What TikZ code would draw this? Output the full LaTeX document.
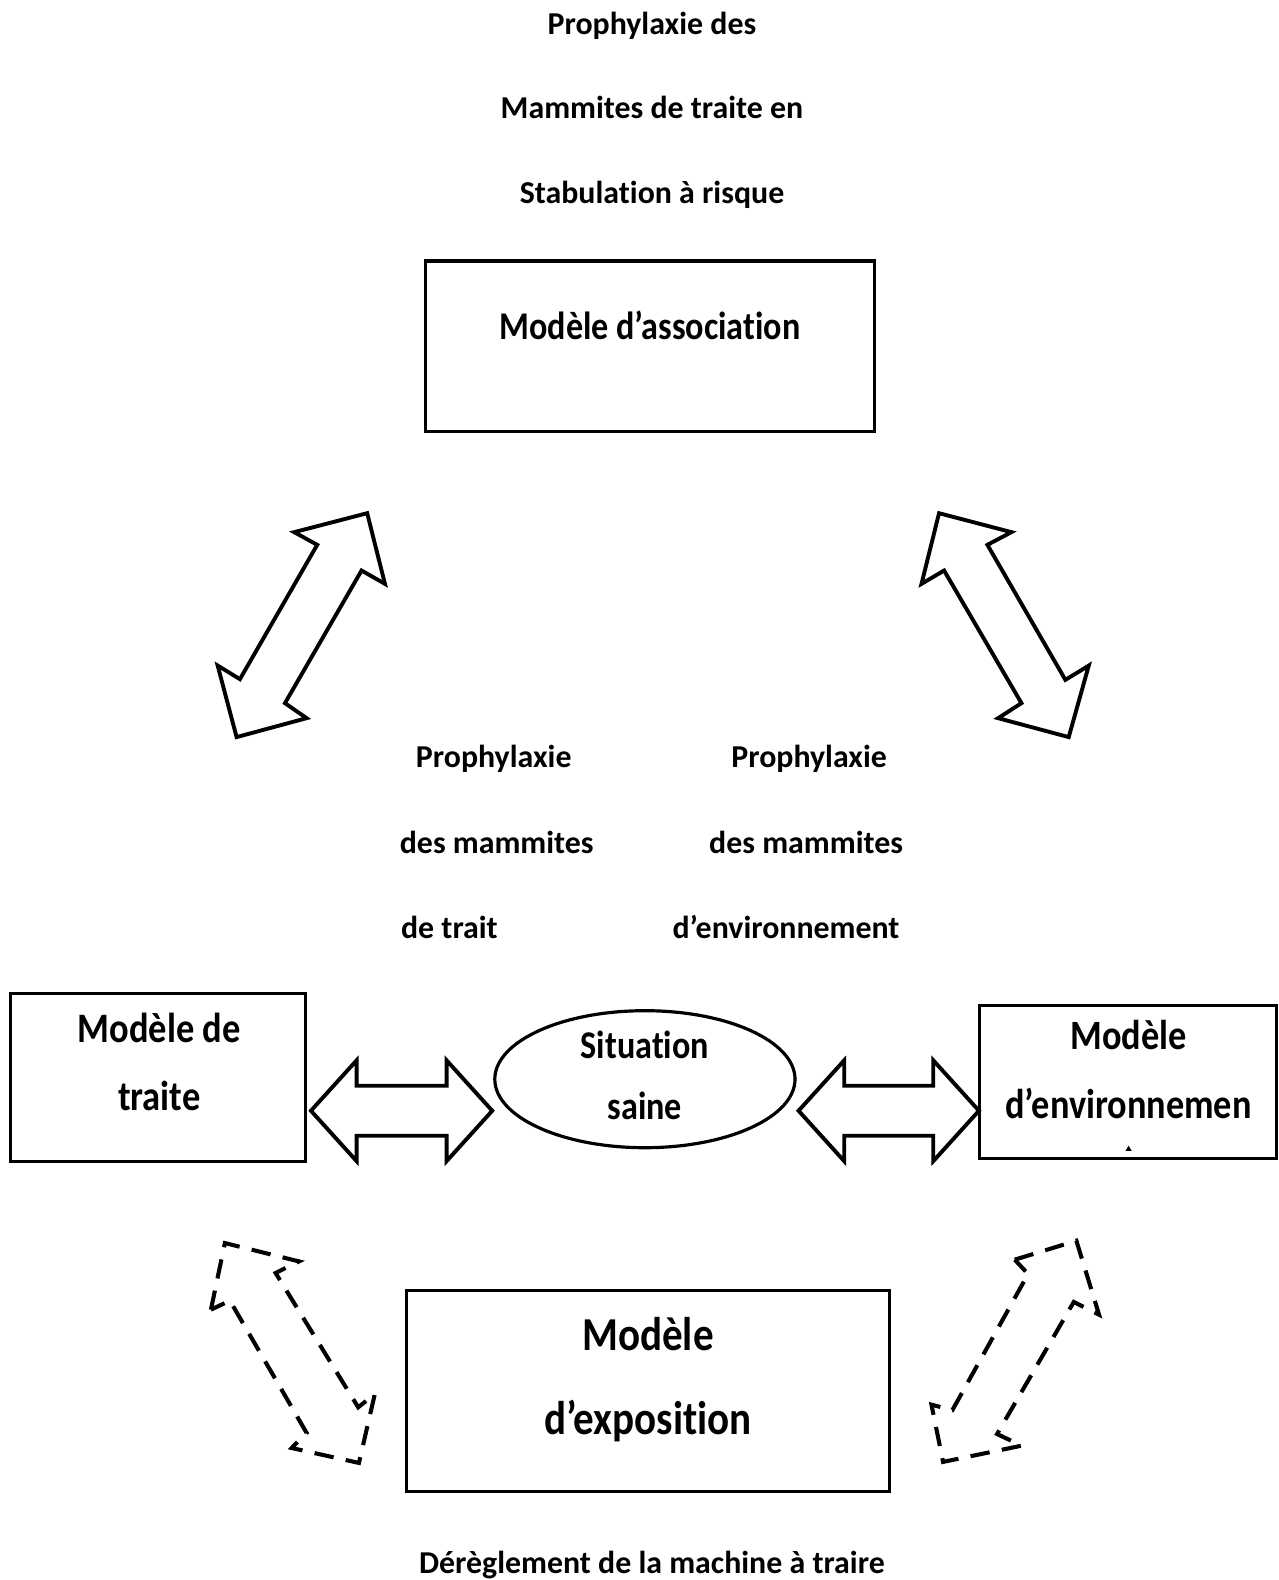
\documentclass[tikz,border=0pt]{standalone}
\usepackage{fontspec}
\setmainfont{Carlito}[Ligatures=NoCommon]
\usepackage{graphicx}
\usetikzlibrary{shapes.geometric}
\newcommand{\tallbox}[1]{\scalebox{1}[1.15]{#1}}
\tikzset{
    headtext/.style={
        font=\fontsize{18}{22}\selectfont\bfseries, % titres en gras
        anchor=base,
        inner sep=0
    },
    modelbox/.style={
        draw,
        line width=1.8pt,
        inner sep=0
    },
    modeltext/.style={
        font=\fontsize{19.3}{23}\selectfont\bfseries,
        anchor=base,
        inner sep=0
    },
    blockarrow/.style={
        draw,
        line width=2.2pt,
        line join=miter
    },
    dasharrow/.style={
        draw,
        line width=2.3pt,
        dash pattern=on 11pt off 7pt
    }
}

\begin{document}
\begin{tikzpicture}[x=0.02cm,y=-0.02cm]
    \useasboundingbox (0,0) rectangle (1269,1568);
    % titre
    \node[headtext] (title1) at (647,34) {Prophylaxie des};
    \node[headtext] (title2) at (647,118) {Mammites de traite en};
    \node[headtext] (title3) at (647,202) {Stabulation à risque};
    % modeles
    \node[modelbox, minimum width=8.92cm, minimum height=3.38cm] (assoc) at (645,343.5) {};
    \node[modeltext] (assoctxt) at (645,337) {\tallbox{Modèle d’association}};
    \node[modelbox, minimum width=5.86cm, minimum height=3.34cm] (traite) at (156.5,1069.5) {};
    \node[modeltext, font=\fontsize{20.6}{24}\selectfont\bfseries] (traitetxt1) at (158,1035) {\tallbox{Modèle de}};
    \node[modeltext, font=\fontsize{20.6}{24}\selectfont\bfseries] (traitetxt2) at (158,1102) {\tallbox{traite}};
    \node[modelbox, ellipse, minimum width=5.96cm, minimum height=2.72cm] (saine) at (640,1071) {};
    \node[modeltext] (sainetxt1) at (640,1050) {\tallbox{Situation}};
    \node[modeltext] (sainetxt2) at (640,1111) {\tallbox{saine}};
    \node[modelbox, minimum width=5.9cm, minimum height=3.04cm] (envir) at (1119.5,1074) {};
    \node[modeltext, font=\fontsize{20.5}{24}\selectfont\bfseries] (envirtxt1) at (1120,1042) {\tallbox{Modèle}};
    \node[modeltext, font=\fontsize{20.5}{24}\selectfont\bfseries] (envirtxt2) at (1120,1110) {\tallbox{d’environnemen}};
    \fill (1117,1142) -- (1120,1137) -- (1123,1142) -- cycle;
    \node[modelbox, minimum width=9.6cm, minimum height=3.98cm] (expo) at (643,1380.5) {};
    \node[modeltext, font=\fontsize{23.2}{27}\selectfont\bfseries] (expotxt1) at (643,1340) {\tallbox{Modèle}};
    \node[modeltext, font=\fontsize{23.2}{27}\selectfont\bfseries] (expotxt2) at (643,1424) {\tallbox{d’exposition}};
    % textes du milieu
    \node[headtext] (traitlab1) at (490,762) {Prophylaxie};
    \node[headtext] (traitlab2) at (493,847) {des mammites};
    \node[headtext] (traitlab3) at (446,931) {de trait};
    \node[headtext] (envlab1) at (803,762) {Prophylaxie};
    \node[headtext] (envlab2) at (800,847) {des mammites};
    \node[headtext] (envlab3) at (780,931) {d’environnement};
    \node[headtext] (machine) at (647,1562) {Dérèglement de la machine à traire};
    % fleches pleines
    \draw[blockarrow] (364.4,509.3) -- (382,579.4) -- (358.8,566.2) -- (282.8,697.8) -- (304.3,712.7)
        -- (234.8,731.5) -- (216,660.5) -- (238.1,674) -- (314.8,540.7) -- (292,528.1) -- cycle;
    \draw[blockarrow] (931.9,509.3) -- (914.5,579.4) -- (936.9,566.2) -- (1013.7,697.8) -- (990.5,712.7)
        -- (1060.6,731.5) -- (1080.5,660.5) -- (1057.3,674.7) -- (979.9,540.7) -- (1003.7,528.1) -- cycle;
    \draw[blockarrow] (308.6,1102.3) -- (353.9,1052.3) -- (353.9,1077.5) -- (443.2,1077.5) -- (443.2,1052.3)
        -- (488.5,1102.3) -- (443.2,1152.3) -- (443.2,1127.1) -- (353.9,1127.1) -- (353.9,1152.3) -- cycle;
    \draw[blockarrow] (792.5,1102.3) -- (837.8,1052.3) -- (837.8,1077.5) -- (926.2,1077.5) -- (926.2,1052.3)
        -- (971.5,1102.3) -- (926.2,1152.3) -- (926.2,1127.1) -- (837.8,1127.1) -- (837.8,1152.3) -- cycle;
    % fleches en pointilles
    \draw[dasharrow] (209.3,1299.7) -- (223.2,1233.6) -- (296.7,1251.8) -- (273.5,1263.3) -- (355.5,1396.6)
        -- (372,1383.4) -- (356.2,1451.8) -- (289.4,1437) -- (304.3,1422) -- (228.2,1290.8) -- cycle;
    \draw[dasharrow] (1007,1250.1) -- (1068.2,1231.3) -- (1090.7,1304.7) -- (1065.6,1292.1) -- (989.5,1423.1)
        -- (1013.7,1434.7) -- (935.9,1450.8) -- (924.4,1394) -- (945.2,1399.3) -- (1020.3,1264.3) -- cycle;
\end{tikzpicture}
\end{document}
